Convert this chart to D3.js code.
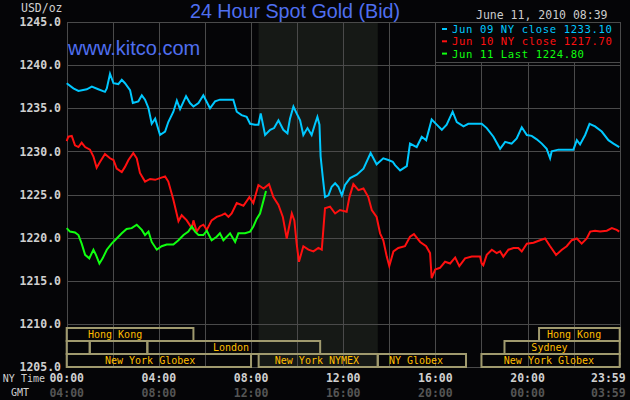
<!DOCTYPE html>
<html>
<head>
<meta charset="utf-8">
<script src="https://cdn.jsdelivr.net/npm/d3@7"></script>
<style>
	html, body { margin: 0; padding: 0; background: #050507; }
	svg { display: block; }
</style>
</head>
<body>
<svg id="chart" width="630" height="400"></svg>
<script>
// 24 hour spot gold chart, three days overlaid on NY time.
// Each series is [hour (NY time), price USD/oz].

const jun09 = [
	[0, 1237.9], [0.29, 1237.3], [0.51, 1237.0], [0.87, 1237.2], [1.09, 1237.5], [1.37, 1237.2],
	[1.66, 1236.9], [1.74, 1237.3], [1.88, 1239.0], [2.03, 1237.9], [2.24, 1237.8], [2.39, 1238.3],
	[2.53, 1237.9], [2.75, 1237.1], [2.87, 1235.6], [3.11, 1235.8], [3.26, 1236.5], [3.40, 1236.0],
	[3.55, 1235.0], [3.69, 1233.2], [3.84, 1233.8], [4.05, 1231.9], [4.27, 1232.3], [4.41, 1233.4],
	[4.63, 1234.6], [4.78, 1235.9], [4.92, 1234.9], [5.18, 1236.4], [5.35, 1235.6], [5.50, 1235.2],
	[5.72, 1235.6], [5.93, 1236.5], [6.22, 1235.0], [6.44, 1235.8], [6.65, 1236.0], [6.94, 1236.0],
	[7.23, 1236.0], [7.38, 1234.6], [7.59, 1234.2], [7.81, 1234.0], [7.96, 1233.2], [8.17, 1233.1],
	[8.32, 1233.1], [8.42, 1234.4], [8.61, 1231.9], [8.83, 1232.5], [9.00, 1232.7], [9.19, 1233.6],
	[9.40, 1232.5], [9.58, 1232.1], [9.69, 1233.8], [9.84, 1235.2], [9.98, 1234.4], [10.13, 1233.6],
	[10.27, 1231.9], [10.45, 1232.7], [10.63, 1231.9], [10.78, 1233.2], [10.88, 1234.0], [10.97, 1233.1],
	[11.02, 1229.4], [11.11, 1227.1], [11.21, 1224.7], [11.36, 1224.9], [11.50, 1225.9], [11.65, 1226.3],
	[11.79, 1225.9], [11.94, 1224.9], [12.08, 1226.1], [12.30, 1226.9], [12.59, 1227.3], [12.88, 1228.0],
	[13.19, 1229.8], [13.45, 1228.5], [13.74, 1229.2], [13.96, 1229.0], [14.15, 1228.8], [14.25, 1228.4],
	[14.47, 1227.8], [14.76, 1228.3], [14.90, 1230.9], [15.19, 1230.5], [15.41, 1231.7], [15.60, 1231.3],
	[15.84, 1233.7], [16.06, 1233.1], [16.28, 1232.5], [16.49, 1233.1], [16.75, 1234.6], [16.93, 1233.4],
	[17.22, 1232.9], [17.43, 1233.2], [18.01, 1233.2], [18.23, 1232.7], [18.52, 1231.7], [18.81, 1230.3],
	[19.03, 1231.1], [19.31, 1230.9], [19.53, 1231.5], [19.75, 1232.8], [19.97, 1231.9], [20.18, 1231.8],
	[20.40, 1231.4], [20.62, 1230.9], [20.83, 1230.3], [20.98, 1229.2], [21.05, 1230.0], [21.34, 1230.2],
	[21.70, 1230.2], [21.99, 1230.2], [22.14, 1231.3], [22.28, 1230.8], [22.50, 1231.9], [22.69, 1233.2],
	[22.93, 1232.9], [23.22, 1232.3], [23.51, 1231.3], [23.73, 1230.9], [23.98, 1230.5]
]

const jun10 = [
	[0, 1231.2], [0.07, 1231.7], [0.22, 1231.8], [0.36, 1230.7], [0.51, 1230.5], [0.65, 1231.0],
	[0.80, 1230.5], [1.01, 1230.2], [1.16, 1229.4], [1.30, 1228.1], [1.45, 1228.8], [1.66, 1229.7],
	[1.88, 1229.2], [2.03, 1229.0], [2.17, 1228.0], [2.39, 1227.6], [2.53, 1228.2], [2.68, 1229.0],
	[2.89, 1229.8], [3.04, 1229.2], [3.18, 1227.5], [3.40, 1226.5], [3.62, 1226.8], [3.84, 1226.7],
	[4.05, 1226.9], [4.27, 1227.1], [4.41, 1226.5], [4.63, 1224.4], [4.85, 1221.9], [4.99, 1222.6],
	[5.21, 1222.0], [5.43, 1221.1], [5.50, 1222.0], [5.64, 1220.7], [5.79, 1221.3], [5.93, 1221.5],
	[6.08, 1220.9], [6.29, 1222.0], [6.51, 1222.4], [6.73, 1222.6], [6.87, 1222.8], [7.02, 1222.4],
	[7.16, 1222.8], [7.38, 1224.0], [7.67, 1223.7], [7.93, 1224.7], [8.10, 1224.0], [8.32, 1226.1],
	[8.54, 1225.7], [8.78, 1226.2], [8.97, 1224.7], [9.19, 1223.8], [9.38, 1222.4], [9.55, 1219.9],
	[9.77, 1222.8], [9.88, 1222.0], [9.98, 1219.3], [10.08, 1217.2], [10.27, 1219.0], [10.49, 1218.6],
	[10.71, 1218.4], [10.92, 1218.8], [11.07, 1218.6], [11.21, 1223.4], [11.43, 1223.6], [11.65, 1222.8],
	[11.86, 1223.2], [12.15, 1223.0], [12.27, 1224.7], [12.44, 1226.2], [12.66, 1225.5], [12.88, 1225.7],
	[13.09, 1224.7], [13.24, 1223.2], [13.45, 1222.4], [13.60, 1220.5], [13.74, 1219.7], [13.89, 1217.8],
	[14.00, 1216.7], [14.18, 1218.4], [14.39, 1218.8], [14.68, 1219.0], [14.90, 1220.1], [15.07, 1220.4],
	[15.34, 1219.5], [15.60, 1219.0], [15.77, 1218.2], [15.84, 1215.3], [15.99, 1216.3], [16.20, 1216.5],
	[16.42, 1217.2], [16.64, 1217.0], [16.86, 1217.7], [17.04, 1216.7], [17.29, 1217.6], [17.58, 1217.8],
	[17.94, 1217.8], [18.01, 1217.0], [18.08, 1216.8], [18.23, 1218.0], [18.45, 1218.6], [18.66, 1218.2],
	[18.81, 1218.4], [18.95, 1217.8], [19.17, 1218.6], [19.39, 1218.8], [19.60, 1218.8], [19.75, 1218.4],
	[19.97, 1219.3], [20.26, 1219.4], [20.54, 1219.7], [20.76, 1219.9], [20.98, 1219.0], [21.24, 1218.0],
	[21.49, 1218.6], [21.70, 1219.0], [21.92, 1219.7], [22.14, 1219.9], [22.35, 1219.3], [22.57, 1219.9],
	[22.72, 1220.7], [22.93, 1220.8], [23.15, 1220.7], [23.44, 1220.8], [23.66, 1221.1], [23.87, 1220.9],
	[23.98, 1220.7]
]

const jun11 = [
	[0, 1221.1], [0.14, 1220.7], [0.36, 1220.6], [0.51, 1220.3], [0.65, 1219.3], [0.80, 1218.0],
	[0.98, 1217.6], [1.16, 1218.6], [1.27, 1218.0], [1.42, 1217.0], [1.56, 1217.6], [1.74, 1218.6],
	[1.95, 1219.3], [2.17, 1219.9], [2.39, 1220.5], [2.60, 1221.0], [2.82, 1221.1], [3.04, 1221.5],
	[3.26, 1220.9], [3.40, 1220.3], [3.55, 1220.7], [3.69, 1219.5], [3.91, 1218.6], [4.12, 1219.0],
	[4.34, 1219.2], [4.63, 1219.2], [4.85, 1219.7], [5.07, 1220.3], [5.28, 1220.7], [5.43, 1221.3],
	[5.57, 1220.7], [5.72, 1220.3], [5.93, 1220.3], [6.08, 1220.8], [6.29, 1219.7], [6.51, 1220.1],
	[6.65, 1220.5], [6.80, 1219.7], [7.09, 1220.5], [7.31, 1219.5], [7.45, 1220.5], [7.74, 1220.5],
	[7.96, 1220.7], [8.10, 1221.3], [8.25, 1222.2], [8.39, 1222.8], [8.51, 1224.0], [8.65, 1225.4]
]

const seriesNames = ['Jun 09 NY close 1233.10', 'Jun 10 NY close 1217.70', 'Jun 11 Last 1224.80']
const seriesData = [jun09, jun10, jun11]
const seriesColors = ['#00c8ff', '#ff1010', '#10ff10']

const priceTicks = [1205, 1210, 1215, 1220, 1225, 1230, 1235, 1240, 1245]
const hourTicks = [0, 4, 8, 12, 16, 20, 24]
const nyLabels = ['00:00', '04:00', '08:00', '12:00', '16:00', '20:00', '23:59']
const gmtLabels = ['04:00', '08:00', '12:00', '16:00', '20:00', '00:00', '03:59']

// NYMEX floor session (shaded band)
const nymexHours = [8.33, 13.5]

// market sessions: row, start hour, end hour, name, hour the name is centred on
const sessionRows = [0, 0, 1, 1, 1, 1, 2, 2, 2, 2]
const sessionStart = [0, 20.5, 0, 1.0, 3.5, 19.0, 0, 8.33, 13.5, 18.0]
const sessionEnd = [5.5, 24, 1.0, 3.5, 11.0, 24, 8.0, 13.5, 17.33, 24]
const sessionNames = ['Hong Kong', 'Hong Kong', '', '', 'London', 'Sydney',
	'New York Globex', 'New York NYMEX', 'NY Globex', 'New York Globex']
const sessionLabelHour = [2.1, 22.02, 0, 0, 7.13, 20.95, 3.62, 10.86, 15.16, 20.93]

// ---------------------------------------------------------------
const BG = '#050507', GRID = '#4a4a4a', BOX = '#a09a6e', LABEL = '#ffbe00'
const MONO = '"DejaVu Sans Mono", monospace'
const SANS = '"Liberation Sans", Arial, sans-serif'

const svg = d3.select('#chart')
svg.append('rect').attr('width', 630).attr('height', 400).attr('fill', BG)

const x = d3.scaleLinear().domain([0, 24]).range([66.7, 619.7])
const y = d3.scaleLinear().domain([1205, 1245]).range([367, 22])

// shaded NYMEX band
svg.append('rect')
	.attr('x', x(nymexHours[0])).attr('y', y(1245))
	.attr('width', x(nymexHours[1]) - x(nymexHours[0]))
	.attr('height', y(1205) - y(1245))
	.attr('fill', '#161916')

// grid
const grid = svg.append('g').attr('stroke', GRID).attr('stroke-width', 1).attr('shape-rendering', 'crispEdges')
grid.selectAll('line.h').data(priceTicks).join('line')
	.attr('class', 'h')
	.attr('x1', x(0)).attr('x2', x(24))
	.attr('y1', d => Math.round(y(d)) + 0.5).attr('y2', d => Math.round(y(d)) + 0.5)
grid.selectAll('line.v').data(d3.range(0, 25, 2)).join('line')
	.attr('class', 'v')
	.attr('y1', y(1245)).attr('y2', y(1205))
	.attr('x1', d => Math.round(x(d)) + 0.5).attr('x2', d => Math.round(x(d)) + 0.5)

// market session boxes
const rowTop = r => 328 + r * 13
const sessions = sessionNames.map((name, i) => ({
	row: sessionRows[i], s: sessionStart[i], e: sessionEnd[i], name, at: sessionLabelHour[i]
}))
const gs = svg.append('g')
gs.selectAll('rect').data(sessions).join('rect')
	.attr('x', d => x(d.s)).attr('y', d => rowTop(d.row))
	.attr('width', d => x(d.e) - x(d.s)).attr('height', 13)
	.attr('fill', 'none').attr('stroke', BOX).attr('stroke-width', 2)
gs.selectAll('text').data(sessions.filter(d => d.name)).join('text')
	.attr('x', d => x(d.at)).attr('y', d => rowTop(d.row) + 10)
	.attr('text-anchor', 'middle')
	.style('font-family', MONO).style('font-size', '10px')
	.attr('fill', LABEL)
	.text(d => d.name)

// price lines
const line = d3.line().x(d => x(d[0])).y(d => y(d[1]))
svg.append('g').selectAll('path').data(seriesData).join('path')
	.attr('d', line)
	.attr('fill', 'none')
	.attr('stroke', (d, i) => seriesColors[i])
	.attr('stroke-width', 2)
	.attr('stroke-linejoin', 'miter')

// legend box (sits on top of the grid, from 16:00 to the right edge)
const lg = svg.append('g')
lg.append('rect')
	.attr('x', Math.round(x(16)) + 0.5).attr('y', Math.round(y(1245)) + 0.5)
	.attr('width', Math.round(x(24)) - Math.round(x(16))).attr('height', 39.5)
	.attr('fill', BG).attr('stroke', GRID).attr('shape-rendering', 'crispEdges')
seriesNames.forEach((name, i) => {
	const by = 33 + i * 12.3
	lg.append('rect')
		.attr('x', 442).attr('y', by - 5).attr('width', 5).attr('height', 2)
		.attr('fill', seriesColors[i])
	lg.append('text')
		.attr('x', 452).attr('y', by)
		.style('font-family', MONO).style('font-size', '10.6px')
		.style('letter-spacing', '0.6px')
		.attr('fill', seriesColors[i])
		.text(name)
})

// y axis labels
svg.append('g').selectAll('text').data(priceTicks).join('text')
	.attr('x', 61).attr('y', d => y(d)).attr('dy', '0.36em')
	.attr('text-anchor', 'end')
	.style('font-family', MONO).style('font-size', '11.5px').style('font-weight', 'bold')
	.attr('fill', '#d0d0d0')
	.text(d => d.toFixed(1))

svg.append('text')
	.attr('x', 21).attr('y', 12)
	.style('font-family', MONO).style('font-size', '11.5px')
	.attr('fill', '#d0d0d0')
	.text('USD/oz')

// x axis labels: NY time and GMT rows
const xLabelX = i => (i === hourTicks.length - 1 ? x(hourTicks[i]) + 6 : x(hourTicks[i]))
const xLabelAnchor = i => (i === hourTicks.length - 1 ? 'end' : 'middle')
svg.append('g').selectAll('text').data(nyLabels).join('text')
	.attr('x', (d, i) => xLabelX(i)).attr('y', 382)
	.attr('text-anchor', (d, i) => xLabelAnchor(i))
	.style('font-family', MONO).style('font-size', '11.5px').style('font-weight', 'bold')
	.attr('fill', '#d0d0d0')
	.text(d => d)
svg.append('g').selectAll('text').data(gmtLabels).join('text')
	.attr('x', (d, i) => xLabelX(i)).attr('y', 397)
	.attr('text-anchor', (d, i) => xLabelAnchor(i))
	.style('font-family', MONO).style('font-size', '11.5px').style('font-weight', 'bold')
	.attr('fill', '#555555')
	.text(d => d)

svg.append('text')
	.attr('x', 45).attr('y', 382).attr('text-anchor', 'end')
	.style('font-family', MONO).style('font-size', '10px')
	.attr('fill', '#d0d0d0')
	.text('NY Time')
svg.append('text')
	.attr('x', 20).attr('y', 396).attr('text-anchor', 'middle')
	.style('font-family', MONO).style('font-size', '10px')
	.attr('fill', '#d0d0d0')
	.text('GMT')

// titles
svg.append('text')
	.attr('x', 295).attr('y', 18).attr('text-anchor', 'middle')
	.style('font-family', SANS).style('font-size', '19.7px')
	.attr('fill', '#4f6ff0')
	.text('24 Hour Spot Gold (Bid)')
svg.append('text')
	.attr('x', 68).attr('y', 55)
	.style('font-family', SANS).style('font-size', '20px')
	.attr('fill', '#4f6ff0')
	.text('www.kitco.com')
svg.append('text')
	.attr('x', 476).attr('y', 18.5)
	.style('font-family', MONO).style('font-size', '11.5px')
	.attr('fill', '#cccccc')
	.text('June 11, 2010 08:39')
</script>
</body>
</html>
